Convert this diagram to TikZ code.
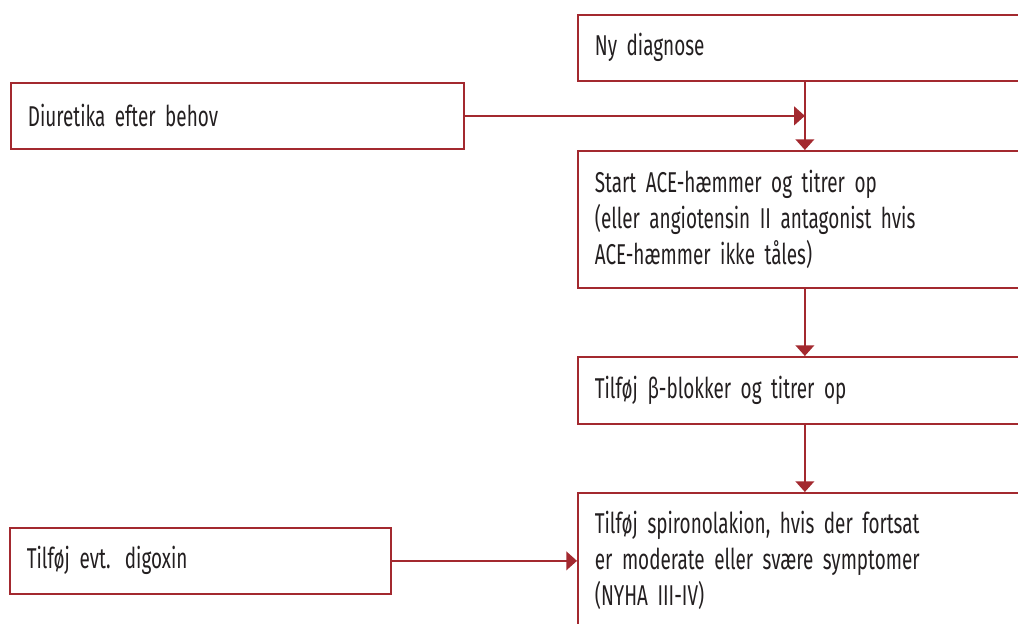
\documentclass[tikz,border=0pt]{standalone}
\usepackage{fontspec}
\setmainfont{Fira Sans}[FakeStretch=0.66, WordSpace=0.75]
\usepackage{tikz}
\usetikzlibrary{arrows.meta}
\definecolor{boxred}{HTML}{A3292F}
\definecolor{txtgray}{HTML}{231F20}
\tikzset{
 box/.style={draw=boxred, line width=1.3pt, anchor=north west, align=left,
  inner xsep=12.75pt, text=txtgray, font=\fontsize{21.5}{27}\selectfont},
 arr/.style={draw=boxred, line width=1.3pt, -{Triangle[length=8pt,width=14pt]}}
}
\begin{document}
\begin{tikzpicture}[x=0.75pt,y=-0.75pt]
 		\useasboundingbox (0,0) rectangle (1018,624);
 		\clip (0,0) rectangle (1018,624);
 		% right column
 		\node [box, text width=315pt, minimum height=49.5pt] (v1) at (577,14) {Ny diagnose};
 		\node [box, text width=315pt, minimum height=102.75pt] (v3) at (577,150) {Start ACE-hæmmer og titrer op\\(eller angiotensin II antagonist hvis\\ACE-hæmmer ikke tåles)};
 		\node [box, text width=315pt, minimum height=50.25pt] (v4) at (577,356) {Tilføj β-blokker og titrer op};
 		\node [box, text width=315pt, minimum height=102pt] (v5) at (577,492) {Tilføj spironolakion, hvis der fortsat\\er moderate eller svære symptomer\\(NYHA III-IV)};
 		% left column
 		\node [box, text width=314.25pt, minimum height=49.5pt] (v2) at (10,82) {Diuretika efter behov};
 		\node [box, text width=260.25pt, minimum height=49.5pt] (v6) at (9,527) {Tilføj evt. digoxin};
 		\draw [arr] (v1) -- (v3);
 		\draw [arr] (v3) -- (v4);
 		\draw [arr] (v4) -- (v5);
 		\draw [arr] (v2.east) -- (v2.east -| v1.south);
 		\draw [arr] (v6.east) -- (v6.east -| v5.west);
 		\end{tikzpicture}
\end{document}
